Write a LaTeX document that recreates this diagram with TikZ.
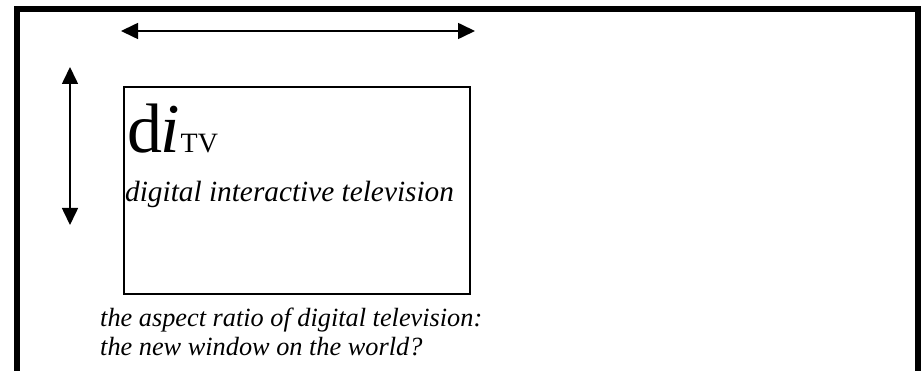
\documentclass[tikz,border=0pt]{standalone}
\usepackage{fontspec}
\setmainfont{Liberation Serif}
\usetikzlibrary{arrows.meta}
\tikzset{
  px/.style={x=1pt,y=-1pt},
  frame/.style={line width=6pt},
  screenbox/.style={draw,line width=2pt,minimum width=346pt,minimum height=206pt,inner sep=0pt},
  dimarrow/.style={line width=1.6pt,{Triangle[length=17pt,width=16pt]}-{Triangle[length=17pt,width=16pt]}},
  txt/.style={inner sep=0pt,anchor=base west}
}
\begin{document}
\begin{tikzpicture}[px]
\useasboundingbox (0,0) rectangle (923,371);
\draw[frame] (17,372) -- (17,9.5) -- (917.5,9.5) -- (917.5,372);
\node[screenbox] (screen) at (297,190.5) {};
\coordinate (hl) at (121,31);
\coordinate (hr) at (475,31);
\coordinate (vt) at (70,67);
\coordinate (vb) at (70,225);
\draw[dimarrow] (hl) -- (hr);
\draw[dimarrow] (vt) -- (vb);
\node[txt] (logo) at (127,153) {\fontsize{70}{70}\selectfont d\kern-2pt\textit{i}\kern1pt\fontsize{28}{28}\selectfont TV};
\node[txt] (sub) at (125,201.5) {\fontsize{29.3}{29.3}\selectfont\itshape digital interactive television};
\node[txt] (cap1) at (100,326) {\fontsize{26.3}{26.3}\selectfont\itshape the aspect ratio of digital television:};
\node[txt] (cap2) at (100,355) {\fontsize{26.3}{26.3}\selectfont\itshape the new window on the world?};
\end{tikzpicture}
\end{document}
